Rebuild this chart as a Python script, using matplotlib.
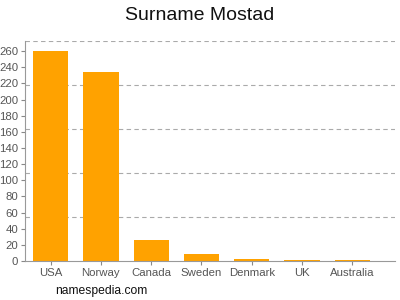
import matplotlib
matplotlib.use('Agg')
import matplotlib.pyplot as plt

# Data
countries = ['USA', 'Norway', 'Canada', 'Sweden', 'Denmark', 'UK', 'Australia']
counts = [260, 234, 26, 9, 3, 1, 1]
yticks = list(range(0, 261, 20))
ymax = 272.5


def main():
    plt.rcParams['font.family'] = ['Liberation Sans', 'DejaVu Sans']
    fig = plt.figure(figsize=(4, 3), dpi=100)
    ax = fig.add_axes([0.0625, 0.13, 0.925, 0.7333])

    # gridlines split the axis in five equal parts
    for k in range(1, 6):
        ax.axhline(ymax * k / 5, color='#aaaaaa', linestyle=(0, (4, 3)), linewidth=0.8, zorder=0)

    x = list(range(len(countries)))
    ax.bar(x, counts, width=0.7, color='#ffa200', zorder=2)

    ax.set_xlim(-0.51, 6.85)
    ax.set_ylim(0, ymax)
    ax.set_xticks(x)
    ax.set_xticklabels(countries)
    ax.set_yticks(yticks)
    ax.tick_params(axis='both', colors='#888888', labelcolor='#555555', labelsize=8.2,
                   length=3, width=0.8, pad=2)
    for side in ['top', 'right']:
        ax.spines[side].set_visible(False)
    for side in ['left', 'bottom']:
        ax.spines[side].set_color('#999999')
        ax.spines[side].set_linewidth(0.8)

    fig.text(0.5, 0.95, 'Surname Mostad', ha='center', va='center', fontsize=14, color='#111111')
    fig.text(0.253, 0.03, 'namespedia.com', ha='center', va='center', fontsize=8.7, color='#111111')

    fig.savefig('out.png', dpi=100)


main()
